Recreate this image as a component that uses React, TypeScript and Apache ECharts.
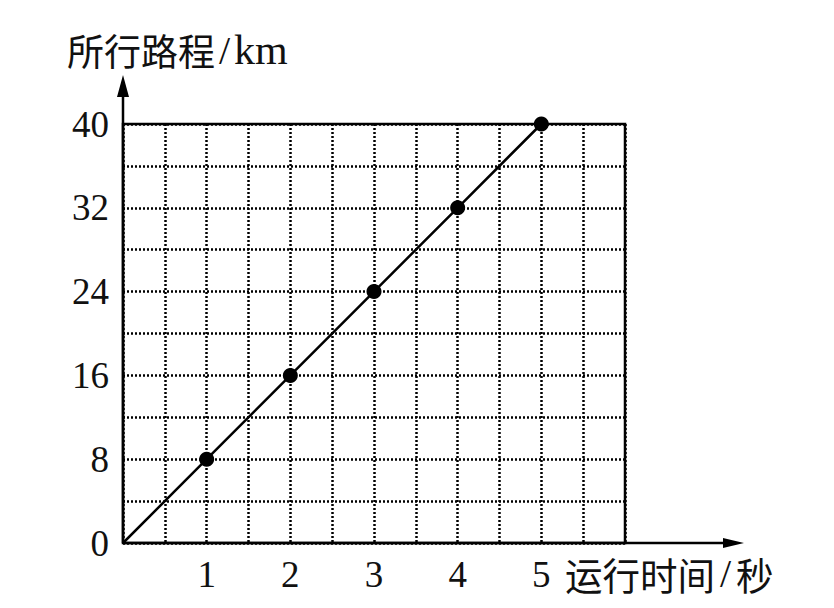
import React, { useEffect, useRef } from "react";
import * as echarts from "echarts";

const timeValues = [0, 1, 2, 3, 4, 5];
const distanceValues = [0, 8, 16, 24, 32, 40];
const xTickLabels = ["1", "2", "3", "4", "5"];
const yTickLabels = ["0", "8", "16", "24", "32", "40"];
const yAxisTitleCjk = "所行路程";
const yAxisTitleUnit = "km";
const xAxisTitleCjk = "运行时间";
const xAxisTitleUnit = "秒";

const SERIF = '"Liberation Serif", "Times New Roman", serif';
const CJK = '"Noto Sans CJK SC", sans-serif';

export default function App() {
  const ref = useRef<HTMLDivElement>(null);
  useEffect(() => {
    if (!ref.current) return;
    const chart = echarts.init(ref.current, undefined, { renderer: "svg" });
    const L = 123, T = 124, W = 502, H = 419;
    const B = T + H;
    chart.setOption({
      animation: false,
      backgroundColor: "#fff",
      grid: { left: L, top: T, width: W, height: H, show: true, borderColor: "#000", borderWidth: 2.5, backgroundColor: "transparent" },
      xAxis: {
        type: "value", min: 0, max: 6, interval: 0.5,
        axisLine: { show: false }, axisTick: { show: false },
        axisLabel: {
          margin: 31, verticalAlign: "middle", fontSize: 37, fontFamily: SERIF, color: "#111",
          formatter: (v: number) => (xTickLabels.includes(String(v)) ? String(v) : ""),
        },
        splitLine: { show: true, lineStyle: { color: "#000", width: 2.5, type: [2, 2] } },
      },
      yAxis: {
        type: "value", min: 0, max: 40, interval: 4,
        axisLine: { show: false }, axisTick: { show: false },
        axisLabel: {
          margin: 14, fontSize: 37, fontFamily: SERIF, color: "#111",
          formatter: (v: number) => (yTickLabels.includes(String(v)) ? String(v) : ""),
        },
        splitLine: { show: true, lineStyle: { color: "#000", width: 2.5, type: [2, 2] } },
      },
      series: [{
        type: "line",
        data: timeValues.map((t, i) => (i === 0 ? { value: [t, distanceValues[i]], symbol: "none" } : [t, distanceValues[i]])),
        symbol: "circle", symbolSize: 15,
        itemStyle: { color: "#000" },
        lineStyle: { color: "#000", width: 2.5 },
        z: 5,
      }],
      graphic: [
        { type: "line", shape: { x1: L, y1: B, x2: 728, y2: B }, style: { stroke: "#000", lineWidth: 2.5 }, z: 10 },
        { type: "polygon", shape: { points: [[723, B - 5], [744, B], [723, B + 5]] }, style: { fill: "#000" }, z: 10 },
        { type: "line", shape: { x1: L, y1: B, x2: L, y2: 92 }, style: { stroke: "#000", lineWidth: 2.5 }, z: 10 },
        { type: "polygon", shape: { points: [[117, 97], [L, 75], [129, 97]] }, style: { fill: "#000" }, z: 10 },
        {
          type: "text", x: 67, y: 50, z: 10,
          style: {
            text: `{c|${yAxisTitleCjk}}{s|/}{l|${yAxisTitleUnit}}`, verticalAlign: "middle", fill: "#111",
            rich: {
              c: { fontSize: 37, fontFamily: CJK, fill: "#111" },
              s: { fontSize: 40, fontFamily: SERIF, fill: "#111", padding: [0, 4] },
              l: { fontSize: 42, fontFamily: SERIF, fill: "#111" },
            },
          },
        },
        {
          type: "text", x: 565, y: 573, z: 10,
          style: {
            text: `{c|${xAxisTitleCjk}}{s|/}{c|${xAxisTitleUnit}}`, verticalAlign: "middle", fill: "#111",
            rich: {
              c: { fontSize: 37.5, fontFamily: CJK, fill: "#111" },
              s: { fontSize: 40, fontFamily: SERIF, fill: "#111", padding: [0, 5] },
            },
          },
        },
      ],
    });
    return () => chart.dispose();
  }, []);
  return <div ref={ref} style={{ position: "fixed", left: 0, top: 0, width: 834, height: 608 }} />;
}
